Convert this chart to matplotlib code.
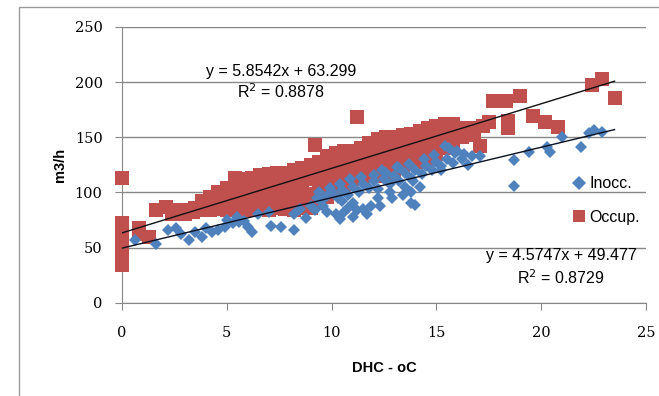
import numpy as np
import matplotlib.pyplot as plt
from matplotlib.lines import Line2D

# Occup. (red squares)
occ_x = [0, 0, 0, 0, 0, 0, 0, 0.8, 0.8, 1.3,
         1.6, 2.1, 2.4, 2.7, 3.0, 3.1, 3.4, 3.5,
         3.8, 3.8,
         4.2, 4.2, 4.2,
         4.6, 4.6, 4.6,
         5.0, 5.0, 5.0, 5.0,
         5.4, 5.4, 5.4, 5.4,
         5.8, 5.8, 5.8, 5.8,
         6.2, 6.2, 6.2, 6.2,
         6.6, 6.6, 6.6, 6.6,
         7.0, 7.0, 7.0, 7.0,
         7.4, 7.4, 7.4, 7.4,
         7.8, 7.8, 7.8, 7.8,
         8.2, 8.2, 8.2, 8.2,
         8.6, 8.6, 8.6, 8.6,
         9.0, 9.0, 9.0, 9.0,
         9.2,
         9.4, 9.4, 9.4, 9.4,
         9.8, 9.8, 9.8, 9.8,
         10.2, 10.2, 10.2, 10.2,
         10.6, 10.6, 10.6, 10.6,
         11.0, 11.0, 11.0, 11.0,
         11.2,
         11.4, 11.4, 11.4, 11.4,
         11.8, 11.8, 11.8, 11.8,
         12.2, 12.2, 12.2, 12.2,
         12.6, 12.6, 12.6, 12.6,
         13.0, 13.0, 13.0, 13.0,
         13.4, 13.4, 13.4, 13.4,
         13.8, 13.8, 13.8, 13.8,
         14.2, 14.2, 14.2, 14.2,
         14.6, 14.6, 14.6, 14.6,
         15.0, 15.0, 15.0, 15.0,
         15.4, 15.4, 15.4, 15.4,
         15.8, 15.8, 15.8,
         16.2, 16.2,
         16.6, 16.8, 17.1, 17.2, 17.5, 17.7, 18.3, 18.4, 18.4, 19.0, 19.6,
         20.2, 20.8, 22.4, 22.9, 23.5]
occ_y = [34, 42, 50, 58, 65, 72, 113, 68, 62, 60,
         84, 87, 80, 84, 80, 84, 82, 86,
         84, 92,
         84, 92, 96,
         85, 93, 100,
         84, 93, 100, 104,
         86, 95, 104, 113,
         84, 93, 102, 112,
         84, 94, 104, 113,
         85, 95, 106, 116,
         84, 95, 106, 117,
         86, 97, 108, 118,
         85, 96, 107, 118,
         84, 96, 108, 120,
         86, 98, 110, 122,
         86, 99, 112, 125,
         143,
         90, 103, 116, 128,
         96, 108, 120, 133,
         100, 112, 124, 136,
         106, 117, 128, 138,
         112, 121, 130, 138,
         168,
         115, 124, 132, 140,
         115, 125, 135, 145,
         115, 126, 137, 148,
         115, 127, 139, 150,
         118, 129, 140, 150,
         124, 134, 143, 152,
         127, 136, 145, 153,
         128, 138, 147, 156,
         130, 140, 149, 158,
         135, 143, 152, 160,
         140, 148, 155, 162,
         145, 153, 162,
         150, 158,
         158, 152, 142, 160, 164, 183, 183, 165, 158, 187, 169,
         164, 159, 197, 203, 186]

# Inocc. (blue diamonds)
ino_x = [0.6, 1.6, 2.2, 2.6, 2.8, 3.2, 3.5, 3.8, 4.0, 4.3, 4.6, 4.9, 5.3, 5.6, 5.8,
         6.2, 6.0, 7.1, 7.6, 8.2, 8.2, 8.8, 9.2, 9.5, 9.6, 10.2, 10.6, 11.2, 11.7,
         11.9, 14.0,
         5.0, 5.5, 6.5, 7.0, 8.5, 9.0, 9.3, 9.8, 10.0, 10.3, 10.5, 10.8, 11.0, 11.3,
         11.5, 11.8, 12.0, 12.2, 12.5, 12.8, 13.0, 13.2, 13.5, 13.8, 14.0, 14.3, 14.5,
         14.8, 15.0, 15.2, 15.5, 15.8, 15.9, 16.2, 16.5, 16.7, 17.1,
         12.2, 12.8, 13.5, 13.8, 10.5, 11.0, 10.4, 11.5, 13.8, 13.9, 14.2, 15.6, 16.3,
         15.2, 12.4, 13.1,
         9.4, 9.9, 10.4, 10.9, 11.4, 12.0, 12.6, 13.2, 13.7, 14.4, 14.9, 15.4, 16.0,
         9.8, 10.8, 11.0, 12.3, 12.9, 13.4,
         18.7, 18.7, 19.4, 20.3, 20.4, 21.0, 21.9, 22.3, 22.5, 22.9]
ino_y = [57, 53, 66, 68, 62, 57, 64, 60, 68, 64, 66, 69, 72, 73, 74,
         64, 69, 70, 69, 66, 80, 77, 84, 92, 88, 80, 82, 84, 80,
         88, 89,
         75, 78, 80, 82, 85, 88, 95, 97, 100, 95, 102, 98, 105, 100,
         108, 104, 110, 103, 112, 108, 115, 110, 118, 113, 120, 117, 124,
         120, 128, 124, 130, 127, 136, 130, 125, 133, 133,
         95, 100, 105, 100, 92, 90, 76, 85, 90, 110, 105, 140, 135,
         120, 120, 123,
         100, 104, 108, 112, 114, 116, 118, 122, 126, 130, 134, 142, 138,
         82, 86, 78, 88, 95, 98,
         129, 106, 137, 141, 137, 150, 141, 154, 157, 155]

x_ticks = [0, 5, 10, 15, 20, 25]
y_ticks = [0, 50, 100, 150, 200, 250]

RED = '#C0504D'
BLUE = '#4F81BD'
GRID = '#878787'

fig = plt.figure(figsize=(6.59, 3.96), dpi=100)
W, H = 659, 396
ax = fig.add_axes([122 / W, 1 - 302.7 / H, (646 - 122) / W, (302.7 - 27) / H])

# outer chart frame (only left and top edges visible in the crop)
fig.add_artist(Line2D([19 / W, 19 / W, 1.01], [-0.01, 1 - 7 / H, 1 - 7 / H],
                      transform=fig.transFigure, color='#9a9a9a', lw=1))

ax.plot(occ_x, occ_y, 's', color=RED, ms=10, mew=0, zorder=3, clip_on=False)
ax.plot(ino_x, ino_y, 'D', color=BLUE, ms=6.3, mew=0, zorder=4, clip_on=False)

# linear trendlines (Excel fit)
xx = np.array([0, 23.5])
ax.plot(xx, 5.8542 * xx + 63.299, color='#111111', lw=1, zorder=5)
ax.plot(xx, 4.5747 * xx + 49.477, color='#0a1020', lw=1, zorder=5)

eq_font = dict(family='Liberation Sans', size=11.5, color='black', ha='center', va='center')
ax.text(7.6, 209.5, 'y = 5.8542x + 63.299', **eq_font)
ax.text(7.6, 191.5, 'R$^2$ = 0.8878', **eq_font)
ax.text(20.95, 43, 'y = 4.5747x + 49.477', **eq_font)
ax.text(20.95, 23, 'R$^2$ = 0.8729', **eq_font)

ax.set_xlim(0, 25)
ax.set_ylim(0, 250)
ax.set_xticks(x_ticks)
ax.set_yticks(y_ticks)
ax.yaxis.grid(True, color=GRID, lw=1)
ax.set_axisbelow(True)
for s in ['top', 'right']:
    ax.spines[s].set_visible(False)
for s in ['left', 'bottom']:
    ax.spines[s].set_color(GRID)
ax.tick_params(axis='both', direction='out', length=5, color=GRID,
               labelsize=10.5, labelfontfamily='DejaVu Serif')
ax.tick_params(axis='x', pad=12)
ax.tick_params(axis='y', pad=9)

ax.set_xlabel('DHC - oC', fontsize=10.5, fontweight='bold', family='Liberation Sans', labelpad=15)
ax.set_ylabel('m3/h', fontsize=10.5, fontweight='bold', family='Liberation Sans', labelpad=5.5)

handles = [Line2D([], [], marker='D', ls='', color=BLUE, ms=7, mew=0),
           Line2D([], [], marker='s', ls='', color=RED, ms=8.5, mew=0)]
ax.legend(handles, ['Inocc.', 'Occup.'], frameon=False, loc='upper left',
          bbox_to_anchor=((567 - 122) / 524, (302.7 - 170) / 275.7),
          handlelength=0.7, handletextpad=0.3, labelspacing=1.15,
          prop={'family': 'Liberation Sans', 'size': 11.5}, borderaxespad=0)

fig.savefig('out.png', dpi=100)
